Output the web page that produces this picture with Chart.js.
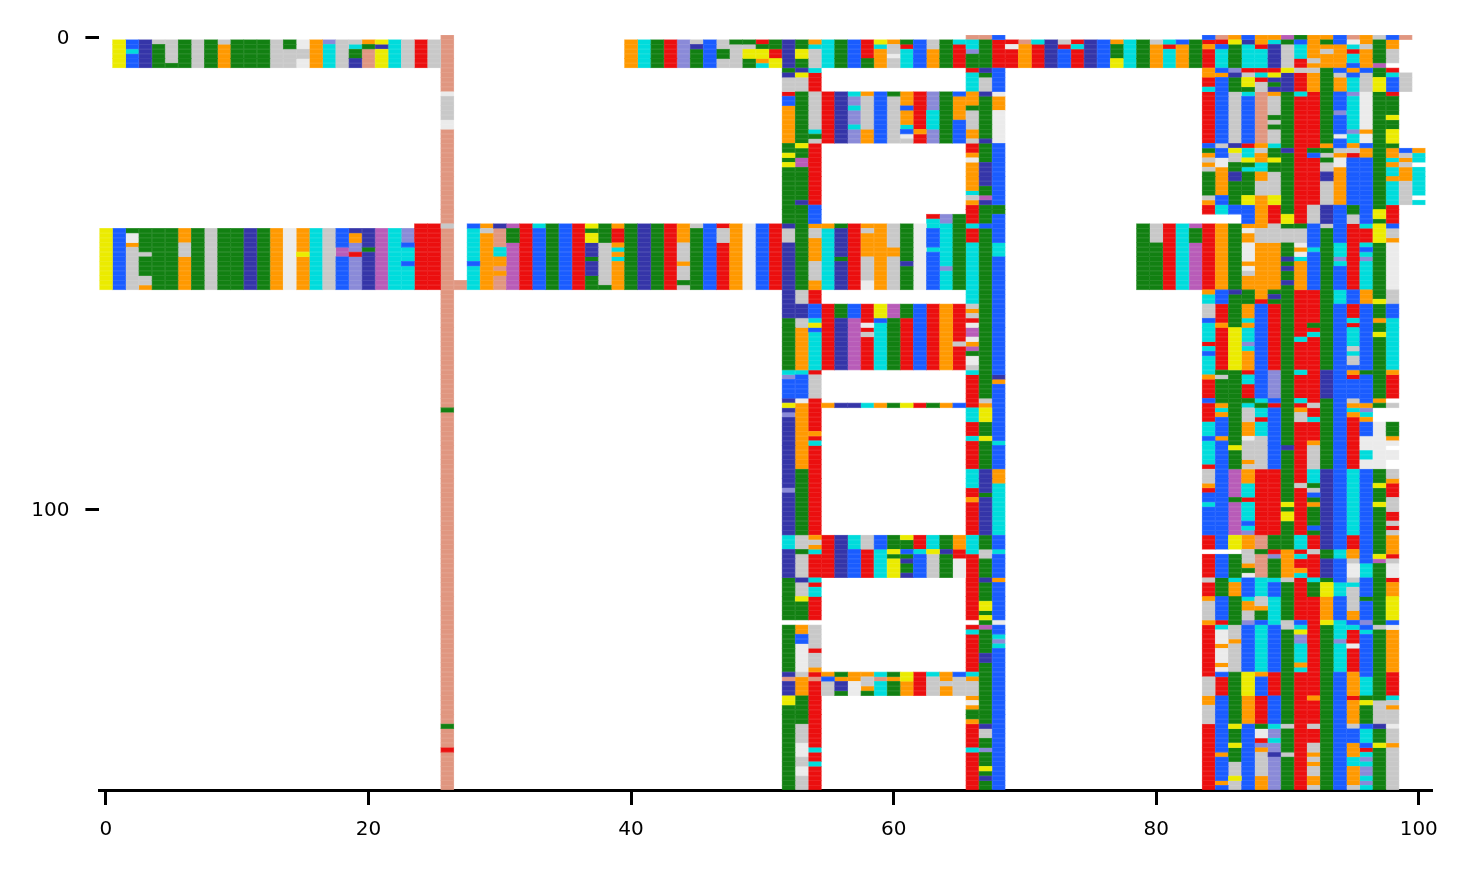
<!DOCTYPE html>
<html>
<head>
<meta charset="utf-8">
<title>Alignment</title>
<script src="https://cdn.jsdelivr.net/npm/chart.js@4"></script>
<style>
  html, body { margin: 0; padding: 0; background: #fff; }
  canvas { display: block; }
</style>
</head>
<body>
<canvas id="alignmentChart" width="1468" height="869"></canvas>
<script>
const xTicks = [0, 20, 40, 60, 80, 100];
const yTicks = [0, 100];
const rowCount = 160;

const residueCodes = ['y', 'b', 'n', 'g', 's', 'w', 'o', 'c', 'r', 'p', 'l', 'm'];
const residueColors = ['#EBEB00', '#1A5CFF', '#3535A8', '#128012', '#C8C8C8', '#EBEBEB',
    '#FF9900', '#00DCDC', '#EB0F0F', '#B85CB8', '#8A8AD8', '#E09680'];

// one entry per alignment column: "<first row><residue>", each run lasts until the next one, _ is a gap
const columnRuns = [
    '41y 54_',
    '1y 7_ 41b 54_',
    '1b 3c 4b 7_ 41g 42w 44o 45s 54_',
    '1n 7_ 41g 46s 47g 51s 53o 54_',
    '1s 2g 7_ 41g 54_',
    '1s 6g 7_ 41g 54_',
    '1g 7_ 41o 44s 47o 54_',
    '1s 7_ 41g 54_',
    '1g 7_ 41s 54_',
    '1s 2o 7_ 41g 54_',
    '1g 7_ 41g 54_',
    '1g 7_ 41n 54_',
    '1g 7_ 41g 54_',
    '1s 7_ 41o 54_',
    '1g 3s 7_ 41w 54_',
    '1w 3s 5w 7_ 41o 46y 47o 54_',
    '1o 7_ 41c 54_',
    '1l 2c 7_ 41s 54_',
    '1s 7_ 41b 45p 47b 54_',
    '1s 2c 3g 5n 7_ 41n 42o 44l 46r 47l 54_',
    '1o 2g 3m 7_ 41n 45g 46n 54_',
    '1y 2n 3y 7_ 41p 54_',
    '1c 7_ 41c 54_',
    '1s 7_ 41l 44b 45c 48b 49c 54_',
    '1r 7_ 40r 54_',
    '1s 7_ 40r 54_',
    '0m 12w 13s 18w 20m 40s 41m 79g 80m 146g 147m 151r 152m',
    '52m 54_',
    '40b 41c 48b 49c 54_',
    '40o 41s 42o 54_',
    '40n 41m 45c 47o 49m 50o 51m 54_',
    '40p 41g 44p 54_',
    '40r 54_',
    '40c 41b 54_',
    '40g 54_',
    '40b 54_',
    '40r 54_',
    '40y 41g 42y 44n 47g 48n 51g 54_',
    '40g 44s 53g 54_',
    '40o 41r 44o 45c 46o 47c 48o 54_',
    '1o 7_ 40g 54_',
    '1c 7_ 40n 54_',
    '1g 7_ 40g 54_',
    '1r 7_ 40r 54_',
    '1l 7_ 40o 44s 48o 49s 52g 53s 54_',
    '1s 2n 3g 7_ 40s 41g 54_',
    '1b 7_ 40b 54_',
    '1s 3g 5s 7_ 40r 41s 44r 54_',
    '1g 2s 7_ 40o 54_',
    '1g 2s 3y 5g 7_ 40w 54_',
    '1r 2g 3y 5o 6c 7_ 40b 54_',
    '1g 3r 5y 7_ 40r 54_',
    '1n 7g 8n 9s 12r 13b 15o 23g 25y 26g 27y 28g 40n 41s 44n 60g 71c 72l 73b 77n 78y 79n 80l 81n 96l 97n 106c 109n 115g 124_ 125g 135n 136m 137n 140y 142g',
    '1g 3y 5g 7n 8y 9s 12g 23y 24g 26p 28g 35n 36g 54s 57n 60s 62o 71c 72b 77w 78o 92g 106s 109g 110s 115n 116s 119y 120g 124_ 125o 127b 129w 135s 136o 140g 146s 150w 153s 155w 157s',
    '1o 2c 3s 7c 8r 12s 20c 21g 22s 23r 36b 40o 41s 43o 48s 52o 54r 57b 60c 61y 62b 63c 71r 72s 77r 84o 85r 86c 87r 106o 107s 108o 109c 110r 115c 116r 117c 119r 124_ 125s 130r 131s 134o 135r 136m 137r 151c 152r 154c 155r',
    '1c 7_ 12r 23_ 40o 41c 54_ 57r 71_ 78o 79_ 106r 115_ 135o 136b 137s 140_',
    '1g 7_ 12n 23_ 40g 41n 47g 48n 54_ 57g 60n 71_ 78n 79_ 106n 115_ 135g 136o 137n 139g 140_',
    '1b 7_ 12c 13l 15c 16l 19c 20l 23_ 40r 54_ 57b 60p 71_ 78n 79_ 106c 109b 115_ 135o 137w 140_',
    '1r 5g 7_ 12o 13s 20o 23_ 40o 41s 42o 47s 52w 54_ 57r 61w 62r 63s 64r 71_ 78c 79_ 106s 109r 115_ 135o 136s 138o 139g 140_',
    '1y 2c 3o 7_ 12b 23_ 40o 54_ 57y 60b 61c 71_ 78o 79_ 106b 109c 115_ 135c 136m 137c 140_',
    '1o 2s 4w 5s 7_ 12g 13s 23_ 40s 45o 47s 54_ 57p 60g 71_ 78g 79_ 106g 109y 110g 111y 115_ 135g 136o 137g 140_',
    '1g 2r 3c 7_ 12o 15b 16o 19c 20b 21w 22s 23_ 40g 48n 49g 54_ 57g 60r 71_ 78y 79_ 106y 107g 109b 110g 111n 112g 114n 115_ 135y 137o 140_',
    '1b 7_ 12r 20o 21r 23_ 40w 54_ 57b 71_ 78r 79_ 106r 109c 110b 115_ 135r 140_',
    '1s 3o 7_ 12l 16c 20l 23_ 38r 39c 41b 45c 46b 54_ 57r 71_ 78g 79_ 106c 109y 110s 115_ 135c 136s 140_',
    '1g 7_ 12g 23_ 38l 40c 49l 50c 54_ 57o 71_ 78o 79_ 106g 109n 110g 115_ 135o 137s 138o 140_',
    '1c 2r 7_ 12b 13o 18b 23_ 38g 54_ 57r 65s 66r 71_ 78b 79_ 106o 109r 111w 115_ 135b 136s 140_',
    '0m 1c 3l 4g 7r 8c 12o 15g 16s 20o 22s 23r 25o 26w 27o 33c 34s 35o 36r 40c 41r 44c 57s 58o 59s 60r 61w 62p 64w 65o 66p 67g 68w 70s 71c 72r 79c 82r 85c 86r 92c 96r 98o 99r 106c 110r 124_ 125r 126c 127r 135c 136o 137s 140o 141w 142o 143g 145o 146r 151c 152r',
    '0m 1g 7n 8g 9s 12n 13g 22n 23g 27n 32g 34p 35n 36g 40b 41g 77s 78o 79y 82g 85y 86g 92n 97g 98n 106g 109s 111g 115n 116g 120y 122g 123y 124g 125p 126g 131n 133g 146n 147s 149g 151l 152g 155y 156g 157n 158g',
    '0b 1r 7b 12w 13o 16w 23b 36g 38b 44c 47b 72n 73o 74b 86c 87b 92o 95c 106b 109c 110b 115o 116b 124w 125b 127c 128l 129c 130b',
    '1r 2w 3r 7_',
    '1m 2o 7_',
    '1c 2r 7_',
    '1n 7_',
    '1s 2r 3b 7_',
    '1r 2c 3r 7_',
    '1n 7_',
    '1b 7_',
    '1o 2g 5y 7_',
    '1c 7_',
    '1g 7_ 40g 54_',
    '1s 2o 7_ 40s 44g 54_',
    '1c 2r 3c 7_ 40r 54_',
    '1b 2o 7_ 40c 54_',
    '1g 7_ 40p 41g 44p 54_',
    '0b 1r 2o 3r 7o 9r 11c 12r 23b 24g 25o 26s 27o 28s 29g 34s 35o 36r 38_ 40r 54o 55c 57s 60b 61c 65r 66c 67b 68c 72o 73r 77b 78r 82c 85b 86c 91r 92s 95o 96r 97b 99c 100b 106r 109_ 110r 115s 116r 119o 120s 124o 125r 136s 140o 142s 146r',
    '0m 1r 2b 3c 7b 8o 9b 23s 24b 26w 28o 34b 36c 38_ 40o 54b 57r 61o 62r 71g 72s 73g 78o 79c 80o 81b 85o 86b 109_ 110b 115g 119b 124r 125c 126w 129o 130w 133o 134w 135b 136r 140b 152o 153b 158o 159b',
    '0o 1y 2g 7l 8n 9g 12s 23n 24y 25s 27g 29n 31g 36b 38_ 40g 54n 55g 62y 71g 87y 88g 92p 98g 99p 106y 109_ 110g 115c 116o 119g 125s 128o 129s 135g 146y 147g 150y 151g 154s 157y 158s',
    '0b 1n 2c 7r 8s 9y 11g 12c 13b 23r 24c 26y 27g 28c 29g 34y 36b 40o 41w 42o 44w 48o 49w 50s 51o 54g 57o 60c 61o 62c 65l 66c 67o 71r 72c 74r 77g 78c 79s 82o 85w 86s 90o 91s 92o 95c 98r 99c 103b 104c 105l 106o 109s 112o 113g 114w 115b 119c 120o 122s 124l 125b 135y 140o 146b',
    '0o 2r 3c 7r 8c 9r 10s 12m 23o 24s 25o 27c 29o 31s 34o 41s 44o 56r 57b 77c 78g 79c 81r 82c 85s 92r 106m 109g 110m 115c 119s 121o 122g 124b 125c 135o 136b 140r 146g 147w 149r 150l 151o 152s 157o',
    '0o 1c 2n 7r 8y 9n 10g 11n 12o 13s 17g 18s 19g 20s 23c 24g 26y 27g 29s 34y 36r 40s 44o 54g 55n 56g 57r 71l 77b 78r 79b 92r 106g 109r 110l 111g 115c 116b 119c 125b 135r 140b 146c 147l 149c 150l 152n 153l',
    '0p 1g 2s 7y 8n 12g 24n 25g 38y 40g 41s 44g 47n 48g 49n 50g 52n 53g 87n 88g 99y 100g 101y 103g 109o 115s 116g 124s 126g 146s 147g 152s 153g',
    '0g 1b 2c 5r 7s 8r 12c 13r 40g 41s 44w 45o 46w 47c 48o 54r 64c 65r 71c 72r 77c 78r 79o 80s 82r 95s 96r 106c 109r 110c 111r 113o 114c 115r 124b 125c 126y 127l 129c 133o 134c 135r',
    '0o 5s 6o 7s 8o 12r 24g 25b 26r 36s 40b 45c 46b 54r 61g 62r 63c 64r 78s 79r 81c 82r 86o 87s 92c 95g 96s 97b 98g 99o 100g 104b 105g 106r 109s 110r 115c 116g 119r 140o 141r 146s 147r 150s 152o 153s 154o 155s 157o 159s',
    '0o 1g 2o 3s 4o 7g 23o 24g 25s 26g 27s 29n 31s 36n 40s 41g 71n 77g 92n 109g 111n 115g 116y 119o 124y 125g',
    '0b 2o 7b 8s 9o 12b 16l 17b 21w 22b 24s 25o 26w 28o 36b 44c 47l 48c 49b 54c 57b 109c 111b 116c 119b 124c 128l 129c 135b',
    '0m 1w 2c 3r 4c 6b 7o 8b 9c 12l 13c 20l 21c 23o 24s 25r 26b 36g 38s 40r 54b 57r 60c 61r 62c 66s 67c 68s 70b 71o 72r 73b 77s 78o 79c 80o 81r 92c 106r 109o 111s 112w 115s 116c 117s 122o 124b 125c 126r 129w 130r 135o 140r 141o 146s 147b 150o 153c 155o 159s',
    '0o 2s 3o 7b 8s 12w 20o 21w 23b 24o 26b 40c 41r 44c 45b 46c 47l 48c 54o 57b 71g 72b 78o 79l 80c 81o 82b 85w 88c 90w 92b 112c 115b 119g 120b 124l 125b 126c 127b 136c 140g 141y 142g 146b 147c 150b 151r 152c 153l 154c 155l 157c 158l 159c',
    '0s 1g 6p 7g 9y 12g 37y 39g 40y 44g 56y 57g 60o 61g 63y 64g 77o 78g 79_ 82w 92g 95y 96g 99y 100g 110y 111p 112g 125s 126g 141s 146n 147g 150y 151g',
    '0b 1o 3s 6_ 7r 8c 9b 12r 13g 17y 18g 20y 23g 24o 26c 27o 28c 30o 31c 36r 40b 41s 43o 44w 54s 57b 60c 71o 72r 77_ 78s 79_ 82g 85o 86w 87_ 88w 90_ 92s 94o 95r 98s 101r 103s 104r 105s 106o 110r 111s 112w 115r 116o 119y 124b 125w 126o 135r 140c 141s 142o 143s 146w 147s 150o 151s',
    '0m 1_ 8s 12_ 24b 25s 26o 27s 28o 31s 36_',
    '24o 25c 27_ 28c 34_ 35c 36_'
];

// --- Build one floating bar per cell, grouped by residue ---
function buildDatasets() {
    const cells = {};
    residueCodes.forEach((code) => { cells[code] = []; });

    columnRuns.forEach((runs, col) => {
        const tokens = runs.split(' ').map((t) => ({ row: parseInt(t, 10), code: t.slice(-1) }));
        tokens.forEach((tok, i) => {
            if (tok.code === '_') return;
            const end = i + 1 < tokens.length ? tokens[i + 1].row : rowCount;
            for (let r = tok.row; r < end; r++) {
                cells[tok.code].push({ x: col, y: [r - 0.5, r + 0.5] });
            }
        });
    });

    return residueCodes.map((code, i) => ({
        label: code,
        data: cells[code],
        backgroundColor: residueColors[i],
        borderColor: residueColors[i] + 'C8',
        borderWidth: 0.8,
        borderSkipped: false,
        inflateAmount: 0.4,
        barPercentage: 1,
        categoryPercentage: 1,
        grouped: false
    }));
}

const tickFont = { family: "'DejaVu Sans'", size: 20 };

new Chart(document.getElementById('alignmentChart'), {
    type: 'bar',
    data: { datasets: buildDatasets() },
    options: {
        responsive: false,
        animation: false,
        layout: { padding: { top: 34.9, right: 36, left: 0, bottom: 0 } },
        plugins: { legend: { display: false }, tooltip: { enabled: false } },
        scales: {
            x: {
                type: 'linear',
                offset: false,
                min: -0.5,
                max: 101.01,
                afterBuildTicks: (axis) => { axis.ticks = xTicks.map((v) => ({ value: v })); },
                afterFit: (axis) => { axis.height = 79; },
                border: { display: true, color: '#000', width: 3 },
                grid: { offset: false, drawOnChartArea: false, tickLength: 15, tickWidth: 3, tickColor: '#000' },
                ticks: { color: '#000', font: tickFont, padding: 13, maxRotation: 0, autoSkip: false }
            },
            y: {
                type: 'linear',
                reverse: true,
                min: -0.5,
                max: rowCount - 0.5,
                afterBuildTicks: (axis) => { axis.ticks = yTicks.map((v) => ({ value: v })); },
                afterFit: (axis) => { axis.width = 99.4; },
                border: { display: false },
                grid: { drawOnChartArea: false, tickLength: 14, tickWidth: 3, tickColor: '#000' },
                ticks: { color: '#000', font: tickFont, padding: 16, labelOffset: 2, autoSkip: false }
            }
        }
    }
});
</script>
</body>
</html>
